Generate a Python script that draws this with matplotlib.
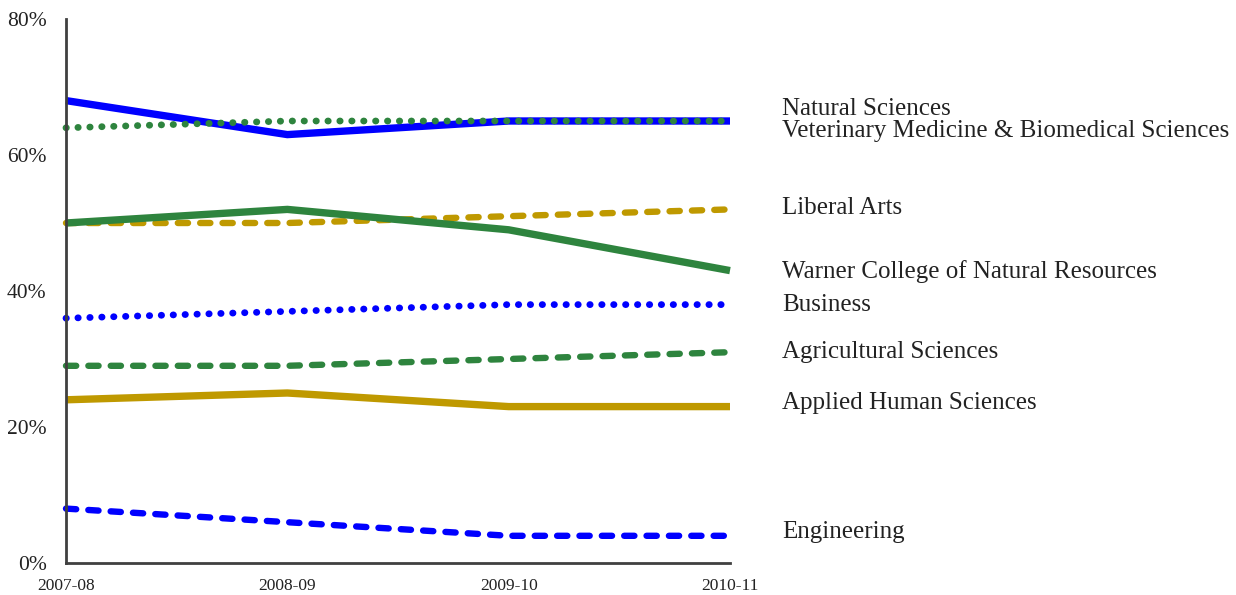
import matplotlib
matplotlib.use("Agg")
import matplotlib.pyplot as plt

years = ["2007-08", "2008-09", "2009-10", "2010-11"]

natural_sciences = [68, 63, 65, 65]
vet_med = [64, 65, 65, 65]
liberal_arts = [50, 50, 51, 52]
warner = [50, 52, 49, 43]
business = [36, 37, 38, 38]
agricultural = [29, 29, 30, 31]
applied_human = [24, 25, 23, 23]
engineering = [8, 6, 4, 4]

names = ["Natural Sciences", "Veterinary Medicine & Biomedical Sciences",
         "Liberal Arts", "Warner College of Natural Resources", "Business",
         "Agricultural Sciences", "Applied Human Sciences", "Engineering"]
label_y = [66.8, 63.5, 52.2, 42.8, 38.0, 31.1, 23.6, 4.5]

BLUE = "#0000FF"
GREEN = "#2E843E"
GOLD = "#BF9900"

plt.rcParams['font.family'] = ['Liberation Serif', 'DejaVu Serif']

fig = plt.figure(figsize=(12.36, 5.95), dpi=100)
ax = fig.add_axes([66/1236, 1-563/595, (730-66)/1236, (563-19)/595])

x = list(range(len(years)))
solid = dict(linestyle='-', lw=5.3, solid_capstyle='butt', solid_joinstyle='miter')
dashed = dict(linestyle=(0, (1.6, 1.9)), lw=4.6, dash_capstyle='round')
dotted = dict(linestyle=(0, (0.05, 1.7)), lw=4.9, dash_capstyle='round')

series = [
    (natural_sciences, BLUE, solid),
    (vet_med, GREEN, dotted),
    (liberal_arts, GOLD, dashed),
    (warner, GREEN, solid),
    (business, BLUE, dotted),
    (agricultural, GREEN, dashed),
    (applied_human, GOLD, solid),
    (engineering, BLUE, dashed),
]
for vals, c, st in series:
    ax.plot(x, vals, color=c, clip_on=False, **st)

ax.set_xlim(0, 3)
ax.set_ylim(0, 80)
ax.set_yticks([0, 20, 40, 60, 80])
ax.set_yticklabels(["0%", "20%", "40%", "60%", "80%"], fontsize=15.5, color="#222222")
ax.set_xticks(x)
ax.set_xticklabels(years, fontsize=12.5, color="#222222")
ax.tick_params(length=0)
ax.tick_params(axis='x', pad=11)
ax.tick_params(axis='y', pad=14)
for s in ["top", "right"]:
    ax.spines[s].set_visible(False)
for s in ["left", "bottom"]:
    ax.spines[s].set_color("#404040")
    ax.spines[s].set_linewidth(2)

for name, ly in zip(names, label_y):
    ax.text(3.235, ly, name, fontsize=18, color="#222222", va='center', ha='left',
            transform=ax.transData, clip_on=False)

fig.savefig("out.png", dpi=100)
